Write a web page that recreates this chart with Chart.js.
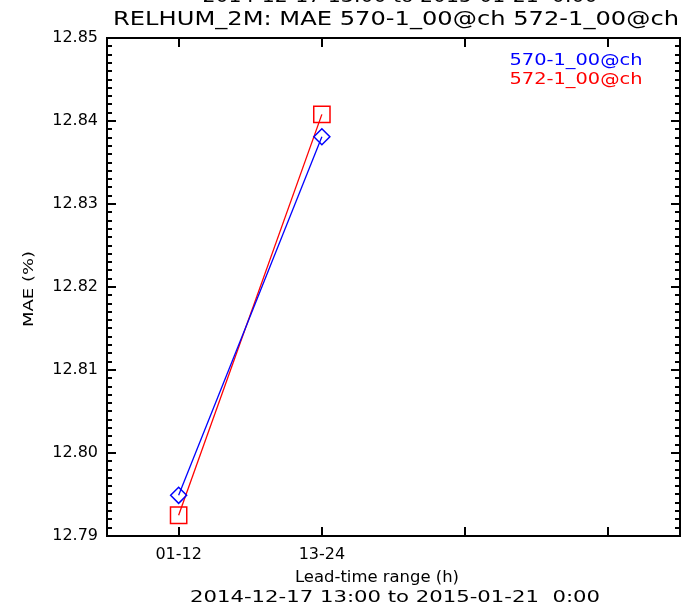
<!DOCTYPE html>
<html>
<head>
<meta charset="utf-8">
<script src="https://cdn.jsdelivr.net/npm/chart.js@4/dist/chart.umd.min.js"></script>
<style>
  html, body { margin: 0; padding: 0; background: #fff; }
  #wrap { width: 681px; height: 610px; }
</style>
</head>
<body>
<div id="wrap"><canvas id="c" width="681" height="610"></canvas></div>
<script>
// lead-time categories (last two have no data)
const leadTimes = ['01-12', '13-24', '', ''];
// MAE values
const mae570 = [12.7949, 12.8381, null, null];
const mae572 = [12.7925, 12.8408, null, null];
const yTickValues = [12.79, 12.80, 12.81, 12.82, 12.83, 12.84, 12.85];
const seriesNames = ['570-1_00@ch', '572-1_00@ch'];
const periodText = '2014-12-17 13:00 to 2015-01-21  0:00';
const titleText = 'RELHUM_2M: MAE 570-1_00@ch 572-1_00@ch';
const xTitle = 'Lead-time range (h)';
const yTitle = 'MAE (%)';

const FONT = '"DejaVu Sans", sans-serif';

// draw text centred at cx,cy and stretched to a given width
function fitText(ctx, text, cx, cy, width, size, color) {
    ctx.save();
    ctx.font = size + 'px ' + FONT;
    ctx.fillStyle = color;
    ctx.textAlign = 'center';
    ctx.textBaseline = 'middle';
    const w = ctx.measureText(text).width;
    ctx.translate(cx, cy);
    ctx.scale(width / w, 1);
    ctx.fillText(text, 0, 0);
    ctx.restore();
}

const framePlugin = {
    id: 'frame',
    afterDraw(chart) {
        const { ctx, chartArea: a, scales } = chart;
        ctx.save();
        ctx.strokeStyle = '#000';
        ctx.lineWidth = 2;
        ctx.strokeRect(a.left, a.top, a.right - a.left, a.bottom - a.top);

        ctx.beginPath();
        // y ticks (major + minor), inward on both sides
        for (let i = 0; i <= 60; i++) {
            const v = yTickValues[0] + i * 0.001;
            const y = Math.round(scales.y.getPixelForValue(v));
            const len = i % 10 === 0 ? 9 : 5;
            ctx.moveTo(a.left, y); ctx.lineTo(a.left + len, y);
            ctx.moveTo(a.right, y); ctx.lineTo(a.right - len, y);
        }
        // x ticks, inward on bottom and top
        leadTimes.forEach((_, i) => {
            const x = Math.round(scales.x.getPixelForValue(i));
            ctx.moveTo(x, a.bottom); ctx.lineTo(x, a.bottom - 9);
            ctx.moveTo(x, a.top); ctx.lineTo(x, a.top + 9);
        });
        ctx.stroke();
        ctx.restore();

        // titles
        fitText(ctx, periodText, 400, -3, 395, 18, '#000');
        fitText(ctx, titleText, 396, 20, 566, 20, '#000');
        fitText(ctx, xTitle, 377, 578, 164, 16, '#000');
        fitText(ctx, periodText, 395, 598, 410, 16, '#000');

        // y title, rotated
        ctx.save();
        ctx.translate(29, 289);
        ctx.rotate(-Math.PI / 2);
        fitText(ctx, yTitle, 0, 0, 76, 14, '#000');
        ctx.restore();

        // legend text
        fitText(ctx, seriesNames[0], 576, 61, 133, 15, '#0000ff');
        fitText(ctx, seriesNames[1], 576, 80, 133, 15, '#ff0000');
    }
};

new Chart(document.getElementById('c'), {
    type: 'line',
    data: {
        labels: leadTimes,
        datasets: [
            {
                label: seriesNames[0],
                data: mae570,
                borderColor: '#0000ff',
                backgroundColor: 'rgba(0,0,0,0)',
                borderWidth: 1.3,
                pointStyle: 'rectRot',
                pointRadius: 8,
                pointBorderWidth: 1.5,
                pointBorderColor: '#0000ff',
                pointBackgroundColor: 'rgba(0,0,0,0)',
                tension: 0,
            },
            {
                label: seriesNames[1],
                data: mae572,
                borderColor: '#ff0000',
                backgroundColor: 'rgba(0,0,0,0)',
                borderWidth: 1.3,
                pointStyle: 'rect',
                pointRadius: 11.5,
                pointBorderWidth: 1.5,
                pointBorderColor: '#ff0000',
                pointBackgroundColor: 'rgba(0,0,0,0)',
                tension: 0,
            },
        ],
    },
    options: {
        responsive: false,
        animation: false,
        devicePixelRatio: 1,
        clip: false,
        layout: { autoPadding: false, padding: { top: 38, right: 1, left: 0, bottom: 0 } },
        plugins: {
            legend: { display: false },
            title: { display: false },
            tooltip: { enabled: false },
        },
        scales: {
            x: {
                type: 'category',
                offset: true,
                grid: { display: false, drawTicks: false },
                border: { display: false },
                ticks: {
                    color: '#000',
                    font: { family: FONT, size: 16 },
                    padding: 9,
                    maxRotation: 0,
                    autoSkip: false,
                },
                afterFit: (s) => {
                    s.height = 74;
                    s.paddingLeft = 0;
                    s.paddingRight = 0;
                },
            },
            y: {
                min: 12.79,
                max: 12.85,
                grid: { display: false, drawTicks: false },
                border: { display: false },
                afterBuildTicks: (s) => { s.ticks = yTickValues.map((v) => ({ value: v })); },
                ticks: {
                    color: '#000',
                    font: { family: FONT, size: 16 },
                    padding: 9,
                    callback: (v) => Number(v).toFixed(2),
                },
                afterFit: (s) => {
                    s.width = 107;
                    s.paddingTop = 0;
                    s.paddingBottom = 0;
                },
            },
        },
    },
    plugins: [framePlugin],
});
</script>
</body>
</html>
